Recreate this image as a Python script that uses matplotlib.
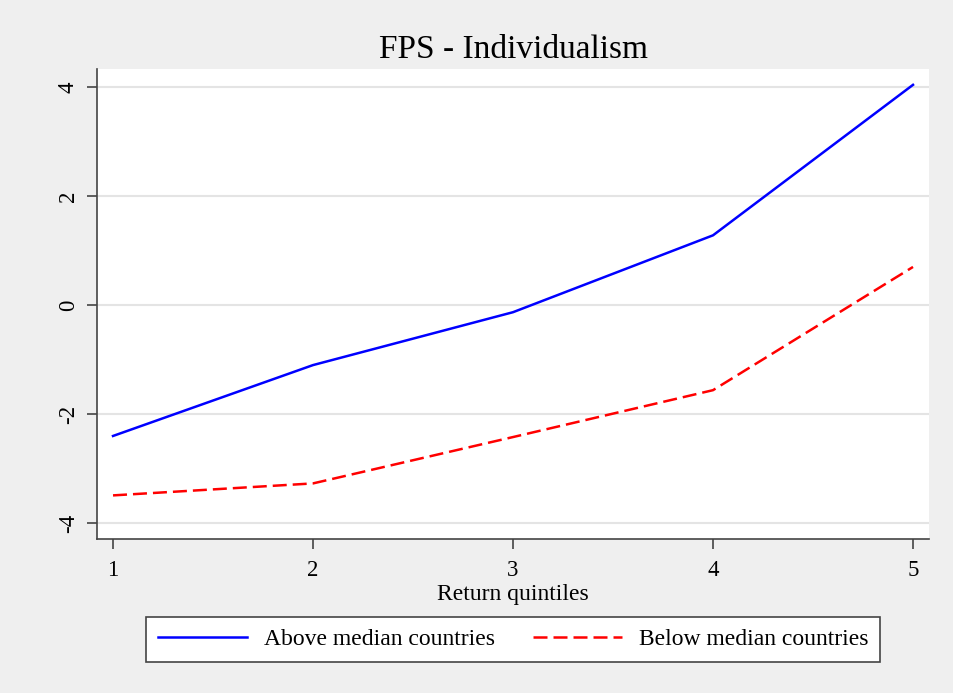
import matplotlib
matplotlib.use("Agg")
import matplotlib.pyplot as plt

# Return quintiles and mean FPS by group
quintiles = [1, 2, 3, 4, 5]
above_median = [-2.40, -1.10, -0.13, 1.28, 4.04]
below_median = [-3.49, -3.27, -2.42, -1.56, 0.70]

plt.rcParams['font.family'] = ['Liberation Serif', 'DejaVu Serif']

bg = '#efefef'
fig = plt.figure(figsize=(9.54, 6.93), dpi=100, facecolor=bg)
ax = fig.add_axes([0.1017, 0.2222, 0.8721, 0.6782])
ax.set_facecolor('white')

ax.plot(quintiles, above_median, color='#0000ff', lw=1.8, label='Above median countries')
ax.plot(quintiles, below_median, color='#ff0000', lw=1.8, dashes=(5.6, 2.4),
        label='Below median countries')

ax.set_xlim(0.92, 5.08)
ax.set_ylim(-4.29, 4.33)
ax.set_xticks(quintiles)
ax.set_yticks([-4, -2, 0, 2, 4])
ax.set_yticklabels(['-4', '-2', '0', '2', '4'], rotation=90, va='center')
ax.grid(axis='y', color='#e4e4e4', lw=1.5)
ax.set_axisbelow(True)

for side in ['top', 'right']:
    ax.spines[side].set_visible(False)
for side in ['left', 'bottom']:
    ax.spines[side].set_color('#444444')
    ax.spines[side].set_linewidth(1.2)
ax.tick_params(direction='out', length=7, width=1.2, color='#444444',
               labelsize=16.5)
ax.tick_params(axis='x', pad=8)
ax.tick_params(axis='y', pad=6)

ax.set_xlabel('Return quintiles', fontsize=17, labelpad=2)
ax.set_title('FPS - Individualism', fontsize=24, pad=8)

leg = fig.legend(loc='center', bbox_to_anchor=(0.5377, 0.0772), ncol=2,
                 fontsize=17, frameon=True, fancybox=False, framealpha=1,
                 handlelength=3.8, handletextpad=0.7, columnspacing=1.6,
                 borderpad=0.5)
leg.get_frame().set_edgecolor('#444444')
leg.get_frame().set_linewidth(1.2)

fig.savefig('out.png', dpi=100, facecolor=bg)
